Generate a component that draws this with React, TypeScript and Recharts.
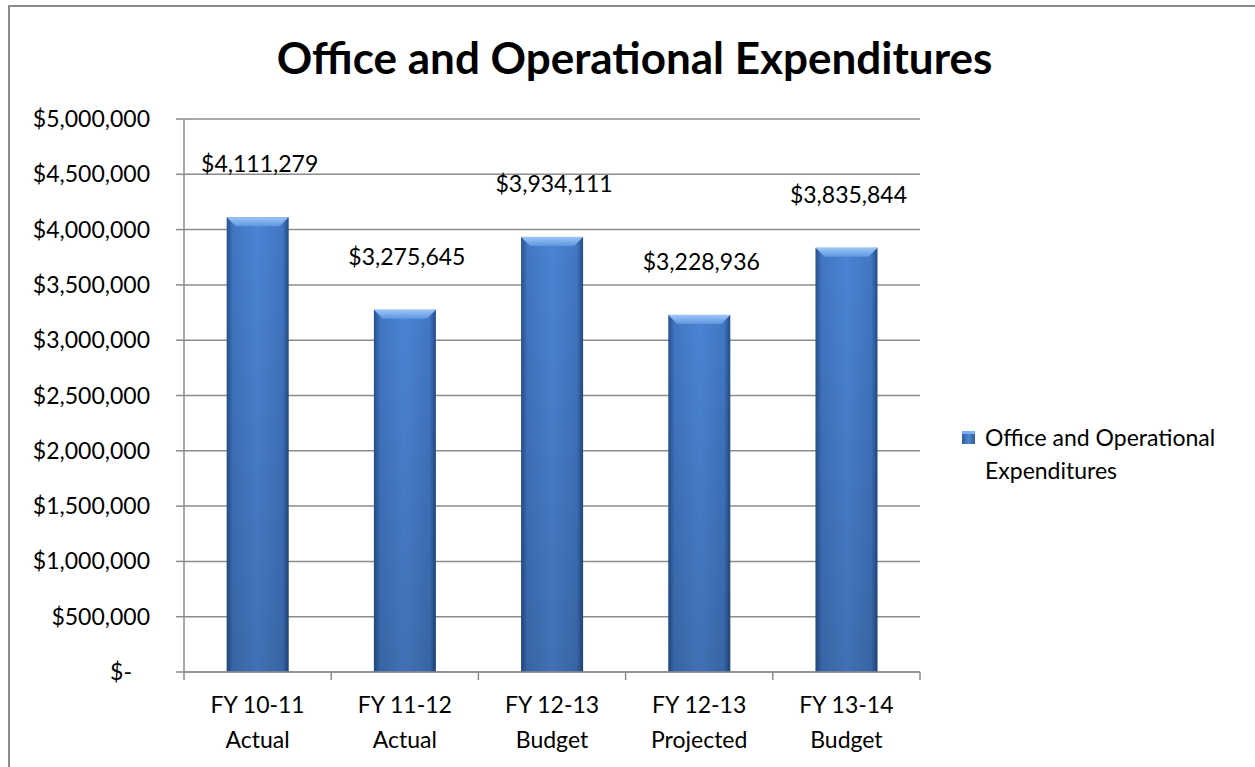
import React from 'react';
import { BarChart, Bar, XAxis, YAxis, CartesianGrid, LabelList } from 'recharts';

const categories = ['FY 10-11|Actual', 'FY 11-12|Actual', 'FY 12-13|Budget', 'FY 12-13|Projected', 'FY 13-14|Budget'];
const expenditures = [4111279, 3275645, 3934111, 3228936, 3835844];
const yTicks = [0, 500000, 1000000, 1500000, 2000000, 2500000, 3000000, 3500000, 4000000, 4500000, 5000000];
const legendLines = ['Office and Operational', 'Expenditures'];

const chartData = categories.map((c, i) => ({ category: c, value: expenditures[i] }));

const FONT = 'Lato, "Open Sans", sans-serif';
const money = (v: number) => '$' + v.toLocaleString('en-US');

const BevelBar: React.FC<any> = ({ x, y, width, height }) => {
  if (!height || height <= 0) return null;
  const b = Math.min(9, width / 6);
  return (
    <g>
      <rect x={x} y={y} width={width} height={height} fill="url(#barH)" />
      <rect x={x} y={y} width={width} height={height} fill="url(#barV)" />
      <polygon
        points={`${x},${y} ${x + width},${y} ${x + width - b},${y + b} ${x + b},${y + b}`}
        fill="url(#barTop)"
      />
    </g>
  );
};

const YTick: React.FC<any> = ({ x, y, payload }) => {
  const isZero = payload.value === 0;
  return (
    <text x={isZero ? x - 18 : x} y={y} dy={8} textAnchor="end" fontFamily={FONT} fontSize={23} fill="#000">
      {isZero ? '$-' : money(payload.value)}
    </text>
  );
};

const XTick: React.FC<any> = ({ x, y, payload, index }) => {
  const band = 736 / categories.length;
  const [l1, l2] = String(payload.value).split('|');
  const last = index === categories.length - 1;
  return (
    <g>
      <line x1={x - band / 2} x2={x - band / 2} y1={y - 8} y2={y} stroke="#8c8c8c" strokeWidth={1.5} />
      {last && <line x1={x + band / 2} x2={x + band / 2} y1={y - 8} y2={y} stroke="#8c8c8c" strokeWidth={1.5} />}
      <text x={x} y={y + 33} textAnchor="middle" fontFamily={FONT} fontSize={23} fill="#000">
        <tspan x={x} dy={0}>{l1}</tspan>
        <tspan x={x} dy={35}>{l2}</tspan>
      </text>
    </g>
  );
};

const ValueLabel: React.FC<any> = ({ x, y, width, value }) => (
  <text x={x + width / 2 + 2} y={y - 45} textAnchor="middle" fontFamily={FONT} fontSize={23} fill="#000">
    {money(value)}
  </text>
);

export default function App() {
  return (
    <div
      style={{
        position: 'absolute',
        left: 8,
        top: 5,
        width: 1247,
        height: 762,
        borderTop: '2px solid #8c8c8c',
        borderLeft: '2px solid #8c8c8c',
        background: '#fff',
        boxSizing: 'border-box',
      }}
    >
      <div
        style={{
          position: 'absolute',
          left: 0,
          top: 28,
          width: 1249,
          textAlign: 'center',
          fontFamily: FONT,
          fontWeight: 'bold',
          fontSize: 44,
          lineHeight: '44px',
          color: '#000',
        }}
      >
        Office and Operational Expenditures
      </div>
      <div
        style={{
          position: 'absolute',
          left: 952,
          top: 414,
          display: 'flex',
          alignItems: 'flex-start',
          fontFamily: FONT,
          fontSize: 23,
          color: '#000',
          lineHeight: '33px',
        }}
      >
        <div
          style={{
            width: 13,
            height: 13,
            marginTop: 10,
            marginRight: 10,
            background: 'linear-gradient(90deg, #2f5d9c, #4f86d2 50%, #2f5d9c)',
            boxShadow: 'inset 0 3px 0 #7fb0f0',
          }}
        />
        <div>
          {legendLines[0]}
          <br />
          {legendLines[1]}
        </div>
      </div>
      <div style={{ position: 'absolute', left: 0, top: 0 }}>
        <BarChart
          width={1245}
          height={760}
          data={chartData}
          margin={{ top: 112, right: 335, left: 0, bottom: 35 }}
          barCategoryGap="29%"
        >
          <defs>
            <linearGradient id="barH" x1="0" y1="0" x2="1" y2="0">
              <stop offset="0%" stopColor="#25518e" />
              <stop offset="10%" stopColor="#4176c2" />
              <stop offset="50%" stopColor="#4c84d3" />
              <stop offset="90%" stopColor="#4176c2" />
              <stop offset="100%" stopColor="#224c86" />
            </linearGradient>
            <linearGradient id="barV" x1="0" y1="0" x2="0" y2="1">
              <stop offset="0%" stopColor="#000" stopOpacity={0} />
              <stop offset="100%" stopColor="#000" stopOpacity={0.15} />
            </linearGradient>
            <linearGradient id="barTop" x1="0" y1="0" x2="0" y2="1">
              <stop offset="0%" stopColor="#9cc6f7" />
              <stop offset="100%" stopColor="#5f96e0" />
            </linearGradient>
          </defs>
          <CartesianGrid vertical={false} stroke="#8c8c8c" strokeWidth={1.5} />
          <XAxis
            dataKey="category"
            interval={0}
            height={60}
            tickLine={false}
            axisLine={{ stroke: '#8c8c8c', strokeWidth: 1.5 }}
            tick={<XTick />}
          />
          <YAxis
            width={174}
            domain={[0, 5000000]}
            ticks={yTicks}
            interval={0}
            tickSize={8}
            tickMargin={26}
            tickLine={{ stroke: '#8c8c8c', strokeWidth: 1.5 }}
            axisLine={{ stroke: '#8c8c8c', strokeWidth: 1.5 }}
            tick={<YTick />}
          />
          <Bar dataKey="value" name="Office and Operational Expenditures" shape={<BevelBar />} isAnimationActive={false}>
            <LabelList dataKey="value" content={<ValueLabel />} />
          </Bar>
        </BarChart>
      </div>
    </div>
  );
}
